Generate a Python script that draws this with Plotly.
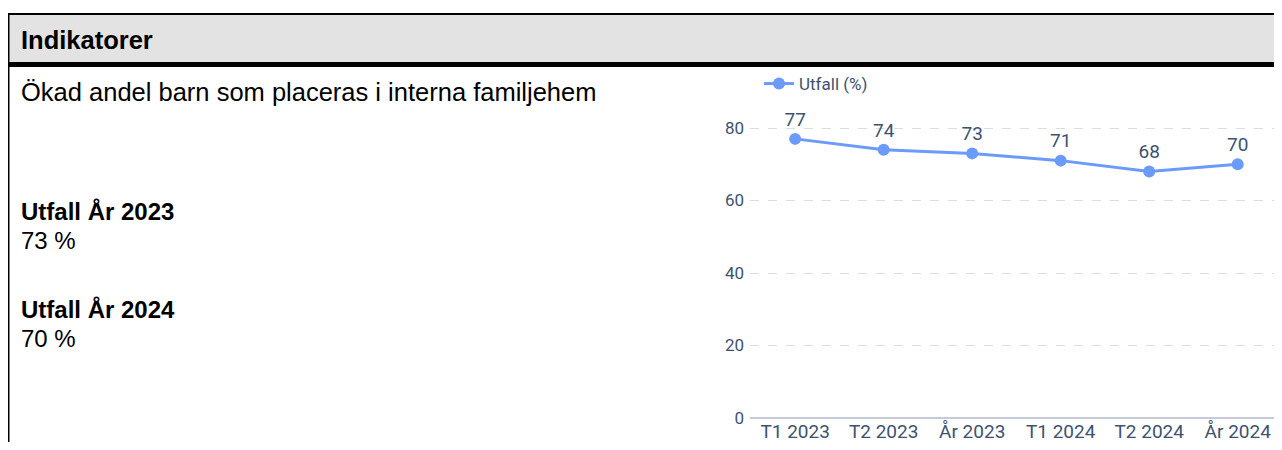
import plotly.graph_objects as go

# data
periods = ["T1 2023", "T2 2023", "År 2023", "T1 2024", "T2 2024", "År 2024"]
utfall = [77, 74, 73, 71, 68, 70]
y_ticks = [0, 20, 40, 60, 80]

header_text = "Indikatorer"
indicator_text = "Ökad andel barn som placeras i interna familjehem"
summary_labels = ["Utfall År 2023", "Utfall År 2024"]
summary_values = ["73 %", "70 %"]

# the page puts an 8px body margin round the figure, so keep it inside the window
OFF = 8
W, H = 1282 - 2 * OFF, 450 - 2 * OFF
line_color = "#6b9bfa"
text_color = "#3e5270"
left_font = dict(family="Liberation Sans, Arial", size=24, color="black")
head_font = dict(family="Liberation Sans, Arial", size=25.5, color="black")


def px(x):
    return (x - OFF) / W


def py(y):
    return 1 - (y - OFF) / H


fig = go.Figure()
fig.add_trace(go.Scatter(
    x=periods, y=utfall, mode="lines+markers+text", name="Utfall (%)",
    text=[str(v) for v in utfall], textposition="top center",
    textfont=dict(family="Roboto", size=19, color=text_color),
    line=dict(color=line_color, width=3),
    marker=dict(color=line_color, size=12),
    cliponaxis=False,
))

# box / header shapes
shapes = [
    dict(type="rect", xref="paper", yref="paper", x0=px(8), x1=1.01, y0=py(64), y1=py(14),
         fillcolor="#e3e3e3", line=dict(width=0), layer="below"),
    dict(type="line", xref="paper", yref="paper", x0=0, x1=1.01, y0=py(14), y1=py(14),
         line=dict(color="black", width=2)),
    dict(type="line", xref="paper", yref="paper", x0=0, x1=1.01, y0=py(64.5), y1=py(64.5),
         line=dict(color="black", width=5)),
    dict(type="line", xref="paper", yref="paper", x0=px(8.5), x1=px(8.5), y0=py(13), y1=-0.05,
         line=dict(color="black", width=2)),
]

annotations = [
    dict(text="<b>" + header_text + "</b>", x=px(19), y=py(40), xref="paper", yref="paper",
         xanchor="left", yanchor="middle", showarrow=False, font=head_font),
    dict(text=indicator_text, x=px(19), y=py(92), xref="paper", yref="paper",
         xanchor="left", yanchor="middle", showarrow=False, font=head_font),
]
rows = [(212, 241), (309, 338)]
for (ly, vy), lab, val in zip(rows, summary_labels, summary_values):
    annotations.append(dict(text="<b>" + lab + "</b>", x=px(19), y=py(ly), xref="paper", yref="paper",
                            xanchor="left", yanchor="middle", showarrow=False, font=left_font))
    annotations.append(dict(text=val, x=px(19), y=py(vy), xref="paper", yref="paper",
                            xanchor="left", yanchor="middle", showarrow=False, font=left_font))

fig.update_layout(
    width=W, height=H,
    margin=dict(l=0, r=0, t=0, b=0, autoexpand=False),
    paper_bgcolor="white", plot_bgcolor="white",
    shapes=shapes, annotations=annotations,
    showlegend=True,
    legend=dict(x=px(759), y=py(84), xanchor="left", yanchor="middle",
                font=dict(family="Roboto", size=17, color=text_color),
                bgcolor="rgba(0,0,0,0)", itemwidth=30),
    xaxis=dict(domain=[px(750), 1], range=[-0.51, 5.41], showgrid=False, automargin=False,
               tickfont=dict(family="Roboto", size=19, color=text_color),
               showline=False, zeroline=False, ticks=""),
    yaxis=dict(domain=[py(418), py(99)], range=[0, 88], tickvals=y_ticks, automargin=False,
               showgrid=True, gridcolor="#d8dee6", griddash="dash", gridwidth=1,
               zeroline=True, zerolinecolor="#c3ccd6", zerolinewidth=2,
               tickfont=dict(family="Roboto", size=17, color=text_color),
               ticks="", ticklabelstandoff=5),
)

fig.write_html("out.html")
